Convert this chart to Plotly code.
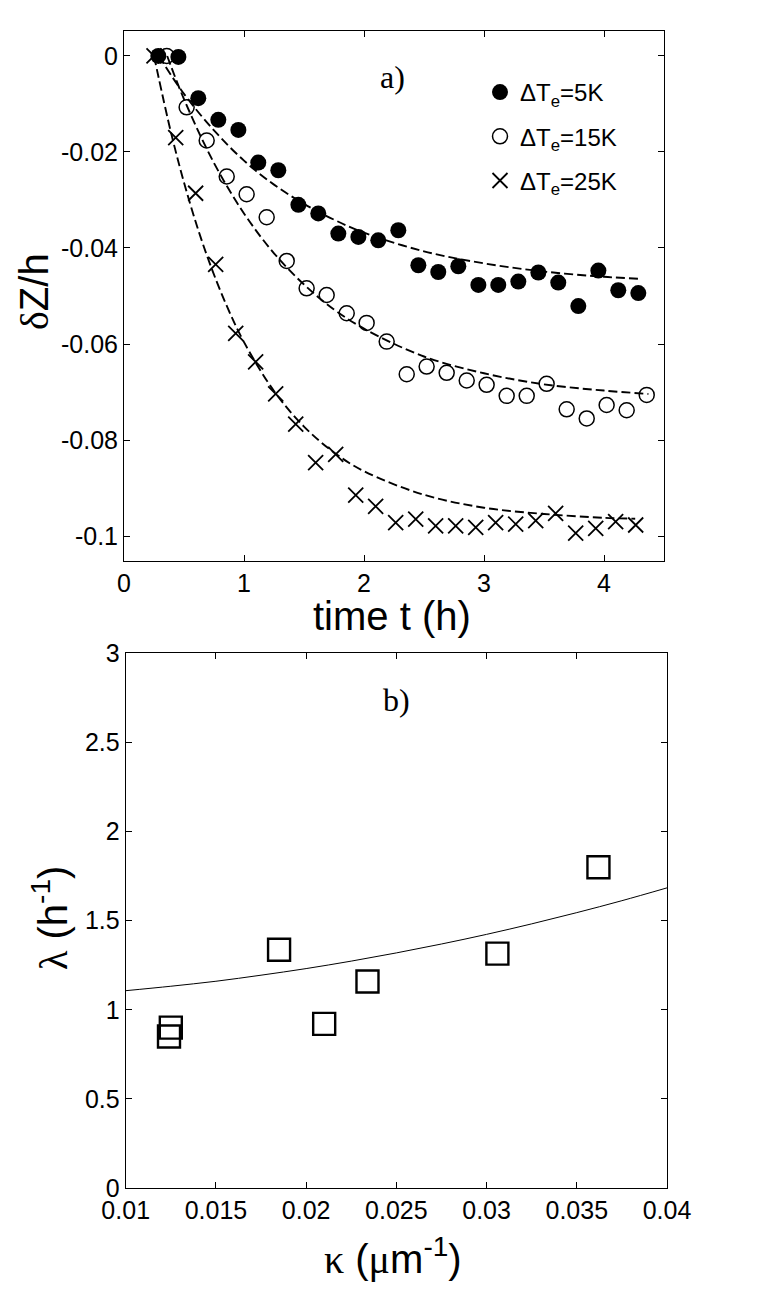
import plotly.graph_objects as go

# ---------------- panel a) data ----------------
t_5K = [0.286, 0.453, 0.619, 0.786, 0.953, 1.119, 1.286, 1.453, 1.619, 1.786, 1.953, 2.119, 2.286,
        2.453, 2.619, 2.786, 2.953, 3.119, 3.286, 3.453, 3.619, 3.786, 3.953, 4.119, 4.286]
dz_5K = [0.0, -0.0002, -0.0088, -0.0133, -0.0154, -0.0222, -0.0238, -0.0310, -0.0328, -0.0370,
         -0.0377, -0.0384, -0.0363, -0.0436, -0.0450, -0.0438, -0.0477, -0.0477, -0.0470, -0.0451,
         -0.0472, -0.0521, -0.0447, -0.0488, -0.0494]

t_15K = [0.356, 0.522, 0.689, 0.856, 1.022, 1.189, 1.356, 1.522, 1.689, 1.856, 2.022, 2.189, 2.356,
         2.522, 2.689, 2.856, 3.022, 3.189, 3.356, 3.522, 3.689, 3.856, 4.022, 4.189, 4.356]
dz_15K = [0.0, -0.0107, -0.0176, -0.0251, -0.0288, -0.0336, -0.0427, -0.0484, -0.0498, -0.0536,
          -0.0556, -0.0595, -0.0663, -0.0647, -0.0660, -0.0676, -0.0685, -0.0708, -0.0708, -0.0683,
          -0.0736, -0.0755, -0.0727, -0.0738, -0.0706]

t_25K = [0.250, 0.431, 0.597, 0.764, 0.931, 1.097, 1.264, 1.431, 1.597, 1.764, 1.931, 2.097, 2.264,
         2.431, 2.597, 2.764, 2.931, 3.097, 3.264, 3.431, 3.597, 3.764, 3.931, 4.097, 4.264]
dz_25K = [0.0, -0.0170, -0.0286, -0.0434, -0.0578, -0.0637, -0.0704, -0.0767, -0.0847, -0.0830,
          -0.0915, -0.0938, -0.0972, -0.0965, -0.0979, -0.0979, -0.0982, -0.0972, -0.0975, -0.0968,
          -0.0953, -0.0994, -0.0984, -0.0970, -0.0977]

# fitted (dashed) curves
fit5_t = [0.29, 0.5, 0.75, 1.0, 1.25, 1.5, 1.75, 2.0, 2.5, 3.0, 3.5, 4.0, 4.29]
fit5_z = [0.0, -0.0079, -0.0155, -0.0218, -0.0268, -0.0308, -0.0341, -0.0368, -0.0407, -0.0432,
          -0.0449, -0.0460, -0.0464]
fit15_t = [0.36, 0.5, 0.75, 1.0, 1.25, 1.5, 1.75, 2.0, 2.5, 3.0, 3.5, 4.0, 4.37]
fit15_z = [0.0, -0.0090, -0.0223, -0.0328, -0.0411, -0.0476, -0.0528, -0.0568, -0.0626, -0.0661,
           -0.0684, -0.0697, -0.0704]
fit25_t = [0.25, 0.4, 0.55, 0.7, 0.85, 1.0, 1.25, 1.5, 1.75, 2.0, 2.5, 3.0, 3.5, 4.0, 4.26]
fit25_z = [0.0, -0.0168, -0.0307, -0.0422, -0.0517, -0.0596, -0.0698, -0.0772, -0.0826, -0.0865,
           -0.0914, -0.0941, -0.0954, -0.0962, -0.0964]

xa_ticks = [0, 1, 2, 3, 4]
ya_ticks = [0, -0.02, -0.04, -0.06, -0.08, -0.1]
ya_labels = ["0", "-0.02", "-0.04", "-0.06", "-0.08", "-0.1"]

# ---------------- panel b) data ----------------
kappa = [0.0125, 0.0124, 0.0185, 0.0210, 0.0234, 0.0306, 0.0362]
lam = [0.90, 0.85, 1.337, 0.921, 1.159, 1.315, 1.80]

model_k = [0.01, 0.0125, 0.015, 0.0175, 0.02, 0.0225, 0.025, 0.0275, 0.03, 0.0325, 0.035, 0.0375, 0.04]
model_l = [1.107, 1.132, 1.160, 1.194, 1.231, 1.273, 1.319, 1.369, 1.423, 1.482, 1.545, 1.612, 1.684]

xb_ticks = [0.01, 0.015, 0.02, 0.025, 0.03, 0.035, 0.04]
xb_labels = ["0.01", "0.015", "0.02", "0.025", "0.03", "0.035", "0.04"]
yb_ticks = [0, 0.5, 1, 1.5, 2, 2.5, 3]
yb_labels = ["0", "0.5", "1", "1.5", "2", "2.5", "3"]

FONT = "Liberation Sans, Arial, sans-serif"
SERIF = "Liberation Serif, Times New Roman, serif"
W, H = 776, 1301


def greek(ch):
    return '<span style="font-family:Liberation Serif, serif">' + ch + '</span>'


fig = go.Figure()

fig.add_trace(go.Scatter(x=t_5K, y=dz_5K, mode="markers", name="ΔT<sub>e</sub>=5K",
                         legendgroup="a", marker=dict(symbol="circle", size=16, color="black"),
                         xaxis="x", yaxis="y"))
fig.add_trace(go.Scatter(x=t_15K, y=dz_15K, mode="markers", name="ΔT<sub>e</sub>=15K",
                         legendgroup="b",
                         marker=dict(symbol="circle-open", size=15, color="black", line=dict(width=1.5)),
                         xaxis="x", yaxis="y"))
fig.add_trace(go.Scatter(x=t_25K, y=dz_25K, mode="markers", name="ΔT<sub>e</sub>=25K",
                         legendgroup="c",
                         marker=dict(symbol="x-thin-open", size=15, color="black", line=dict(width=1.8)),
                         xaxis="x", yaxis="y"))
for ft, fz in [(fit5_t, fit5_z), (fit15_t, fit15_z), (fit25_t, fit25_z)]:
    fig.add_trace(go.Scatter(x=ft, y=fz, mode="lines", showlegend=False,
                             line=dict(color="black", width=1.9, dash="9px,4px", shape="spline"),
                             xaxis="x", yaxis="y"))

fig.add_trace(go.Scatter(x=kappa, y=lam, mode="markers", showlegend=False,
                         marker=dict(symbol="square-open", size=22, color="black", line=dict(width=2.4)),
                         xaxis="x2", yaxis="y2"))
fig.add_trace(go.Scatter(x=model_k, y=model_l, mode="lines", showlegend=False,
                         line=dict(color="black", width=1, shape="spline"),
                         xaxis="x2", yaxis="y2"))

axis_common = dict(showgrid=False, zeroline=False, showline=True, linecolor="black", linewidth=1,
                   mirror="ticks", ticks="inside", ticklen=6, tickwidth=1, tickcolor="black",
                   automargin=False,
                   tickfont=dict(family=FONT, size=25, color="black"))

fig.update_layout(
    width=W, height=H,
    margin=dict(l=0, r=0, t=0, b=0, pad=0, autoexpand=False),
    paper_bgcolor="white", plot_bgcolor="white",
    xaxis=dict(domain=[124 / W, 664 / W], range=[0, 4.5], tickvals=xa_ticks, anchor="y",
               **axis_common),
    yaxis=dict(domain=[1 - 561 / H, 1 - 31 / H], range=[-0.1052, 0.0052], tickvals=ya_ticks,
               ticktext=ya_labels, anchor="x", **axis_common),
    xaxis2=dict(domain=[125.7 / W, 667 / W], range=[0.01, 0.04], tickvals=xb_ticks,
                ticktext=xb_labels, anchor="y2", **axis_common),
    yaxis2=dict(domain=[1 - 1188 / H, 1 - 653.3 / H], range=[0, 3], tickvals=yb_ticks,
                ticktext=yb_labels, anchor="x2", **axis_common),
    showlegend=True,
    legend=dict(x=480 / W, y=1 - 70 / H, xanchor="left", yanchor="top",
                bgcolor="rgba(0,0,0,0)", borderwidth=0, tracegroupgap=10,
                font=dict(family=FONT, size=24, color="black")),
)

annots = [
    dict(text="a)", x=392 / W, y=1 - 77 / H, font=dict(family=SERIF, size=32, color="black")),
    dict(text="b)", x=396 / W, y=1 - 700 / H, font=dict(family=SERIF, size=32, color="black")),
    dict(text="time t (h)", x=392 / W, y=1 - 616 / H, font=dict(family=FONT, size=40, color="black")),
    dict(text=greek("δ") + "Z/h", x=34 / W, y=1 - 292 / H, textangle=-90,
         font=dict(family=FONT, size=40, color="black")),
    dict(text=greek("κ") + " (" + greek("μ") + "m<sup>-1</sup>)", x=393 / W, y=1 - 1256 / H,
         font=dict(family=FONT, size=40, color="black")),
    dict(text=greek("λ") + " (h<sup>-1</sup>)", x=50 / W, y=1 - 918 / H, textangle=-90,
         font=dict(family=FONT, size=40, color="black")),
]
for a in annots:
    fig.add_annotation(xref="paper", yref="paper", showarrow=False, xanchor="center", yanchor="middle", **a)

fig.write_html("out.html")
